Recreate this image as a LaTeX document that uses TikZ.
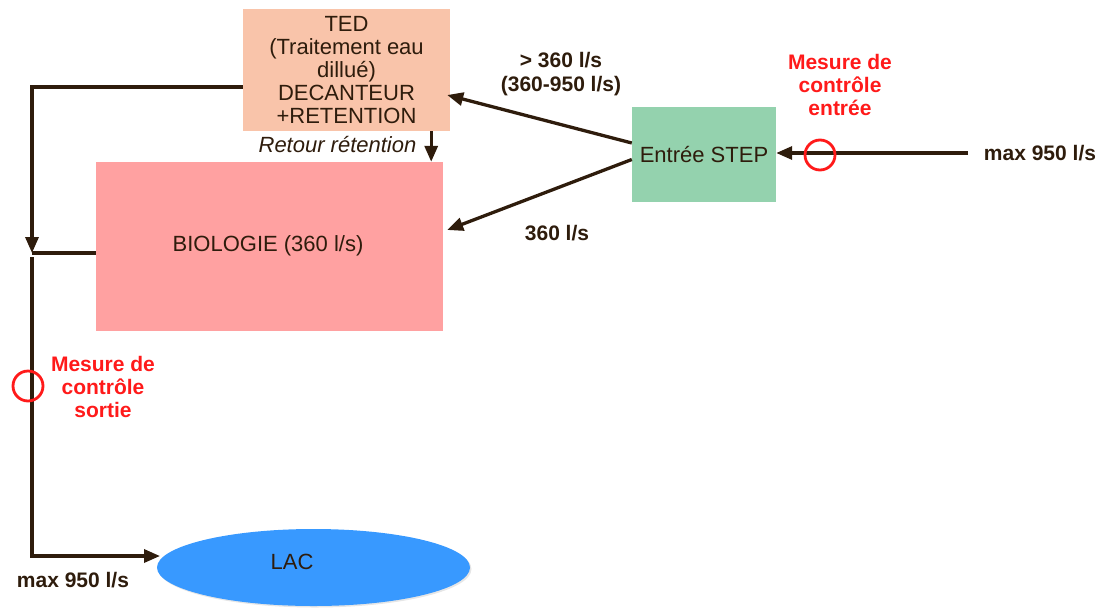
\documentclass[tikz,border=0pt]{standalone}
\usepackage{fontspec}
\setmainfont{Liberation Sans}
\usetikzlibrary{arrows.meta,shapes.geometric,shadows}

\definecolor{ink}{HTML}{2E1C0C}
\definecolor{tedfill}{HTML}{F9C4AA}
\definecolor{biofill}{HTML}{FFA1A1}
\definecolor{stepfill}{HTML}{94D2AE}
\definecolor{lacfill}{HTML}{3899FF}
\definecolor{alert}{HTML}{FF1A1A}

\begin{document}
\begin{tikzpicture}[x=1pt,y=-1pt,
  every node/.style={font=\fontsize{22}{23}\selectfont, text=ink},
  flow/.style={draw=ink, line width=3.3pt, -{Triangle[length=16pt,width=13pt]}},
  pipe/.style={draw=ink, line width=3.3pt},
  box/.style={inner sep=0pt, align=center},
  gauge/.style={draw=alert, line width=2.8pt, circle, minimum size=30pt, inner sep=0pt},
  redlbl/.style={text=alert, font=\fontsize{21}{23}\selectfont\bfseries, align=center},
  lbl/.style={font=\fontsize{21}{24}\selectfont\bfseries, align=center}]
\useasboundingbox (0,0) rectangle (1115,608);

% process blocks
\node[box, fill=tedfill, minimum width=207pt, minimum height=122pt] (ted) at (346.5,70)
  {TED\\(Traitement eau\\dillué)\\DECANTEUR\\+RETENTION};
\node[box, fill=biofill, minimum width=347pt, minimum height=169pt] (bio) at (269.5,246.5) {};
\node (biotxt) at (268,246) {BIOLOGIE (360 l/s)};
\node[box, fill=stepfill, minimum width=144pt, minimum height=95pt] (step) at (704,154.5) {Entrée STEP};
\node[ellipse, fill=lacfill, minimum width=313pt, minimum height=77pt, inner sep=0pt,
  drop shadow={shadow xshift=1.5pt, shadow yshift=-1.5pt, opacity=0.2}] (lac) at (313.5,567.5) {};
\node (lactxt) at (292,562) {LAC};

% routing points
\coordinate (src) at (968,153);
\coordinate (j1) at (32,87);
\coordinate (j2) at (32,253);
\coordinate (j2b) at (32,257);
\coordinate (j3) at (32,556);
\coordinate (lacin) at (160,556);

% incoming flow
\draw[flow] (src) -- (step.east |- src);
\node[gauge] (ingauge) at (820,155) {};

% split towards TED and BIOLOGIE
\draw[flow] ([yshift=11.5pt]step.west) -- ([xshift=-3pt,yshift=-25pt]ted.east);
\draw[flow] ([yshift=-5pt]step.west) -- ([xshift=4pt,yshift=16.5pt]bio.east);

% retention return
\draw[flow] ([xshift=-19pt]ted.south east) -- ([xshift=-12pt]bio.north east);

% outlets towards the lake
\draw[flow] (ted.west |- j1) -- (j1) -- (j2);
\draw[pipe] (bio.west |- j2) -- (j2);
\draw[flow] (j2b) -- (j3) -- (lacin);
\node[gauge] (outgauge) at (28,386) {};

% labels
\node[lbl] (l1) at (561,74) {> 360 l/s\\(360-950 l/s)};
\node[lbl] (l2) at (557,233) {360 l/s};
\node[lbl] (l3) at (1040,153) {max 950 l/s};
\node[lbl] (l4) at (73,580) {max 950 l/s};
\node[font=\fontsize{22}{23}\selectfont\itshape] (ret) at (337.5,145) {Retour rétention};
\node[redlbl] (min) at (840,85) {Mesure de\\contrôle\\entrée};
\node[redlbl] (mout) at (103,387) {Mesure de\\contrôle\\sortie};
\end{tikzpicture}
\end{document}
